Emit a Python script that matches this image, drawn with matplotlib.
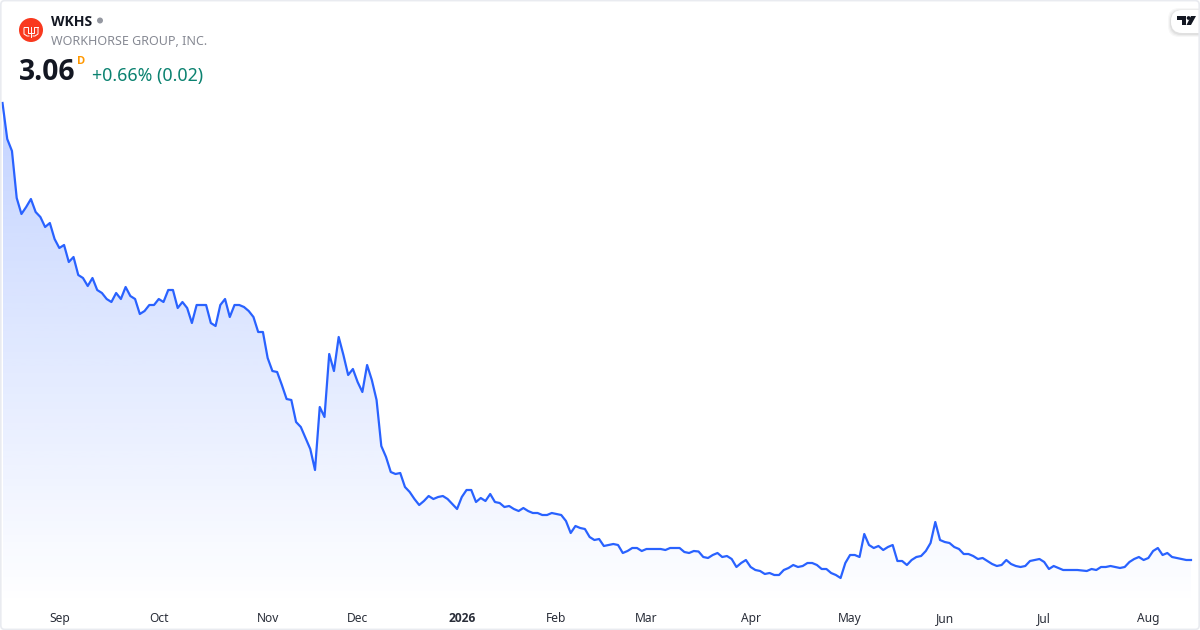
import numpy as np
import matplotlib
matplotlib.use("Agg")
import matplotlib.pyplot as plt
from matplotlib.patches import Circle, FancyBboxPatch, Polygon

plt.rcParams['font.family'] = ['Noto Sans', 'DejaVu Sans']
BOLD_FONT = ['Open Sans', 'Noto Sans', 'DejaVu Sans']

# --- data ---
ticker = "WKHS"
company = "WORKHORSE GROUP, INC."
last_price = "3.06"
change_text = "+0.66% (0.02)"
prices = [
 12.20,11.48,11.24,10.30,9.98,10.12,10.28,10.02,9.92,9.72,
 9.80,9.48,9.30,9.36,9.02,9.12,8.76,8.70,8.54,8.70,
 8.46,8.40,8.28,8.22,8.40,8.28,8.52,8.34,8.28,7.98,
 8.04,8.16,8.16,8.28,8.22,8.46,8.46,8.10,8.22,8.10,
 7.80,8.16,8.16,8.16,7.80,7.74,8.16,8.28,7.92,8.16,
 8.16,8.12,8.04,7.92,7.62,7.62,7.10,6.84,6.82,6.56,
 6.28,6.26,5.82,5.72,5.50,5.28,4.86,6.12,5.92,7.18,
 6.84,7.52,7.16,6.76,6.88,6.62,6.42,6.96,6.66,6.26,
 5.34,5.12,4.82,4.78,4.80,4.52,4.42,4.28,4.16,4.24,
 4.34,4.28,4.32,4.34,4.28,4.18,4.08,4.32,4.46,4.46,
 4.22,4.30,4.24,4.38,4.22,4.20,4.12,4.14,4.08,4.04,
 4.10,4.04,4.00,4.00,3.96,3.96,4.00,3.98,3.96,3.84,
 3.60,3.74,3.70,3.68,3.52,3.46,3.48,3.34,3.36,3.38,
 3.36,3.20,3.24,3.30,3.30,3.24,3.28,3.28,3.28,3.28,
 3.26,3.30,3.30,3.30,3.22,3.20,3.24,3.23,3.12,3.10,
 3.16,3.20,3.12,3.14,3.08,2.92,3.00,3.06,2.92,2.86,
 2.84,2.78,2.80,2.76,2.76,2.86,2.90,2.96,2.92,2.94,
 3.00,3.00,2.96,2.88,2.88,2.80,2.76,2.70,3.00,3.16,
 3.16,3.12,3.58,3.36,3.30,3.34,3.26,3.32,3.36,3.04,
 3.04,2.96,3.06,3.12,3.14,3.24,3.40,3.82,3.46,3.42,
 3.40,3.32,3.28,3.18,3.18,3.14,3.08,3.10,3.04,2.98,
 2.94,2.96,3.06,2.98,2.94,2.92,2.94,3.04,3.06,3.08,
 3.02,2.88,2.94,2.90,2.86,2.86,2.86,2.86,2.85,2.84,
 2.88,2.86,2.92,2.92,2.94,2.92,2.90,2.92,3.02,3.08,
 3.12,3.06,3.10,3.24,3.30,3.16,3.20,3.12,3.10,3.08,
 3.06,3.06,
]
month_labels = ["Sep","Oct","Nov","Dec","2026","Feb","Mar","Apr","May","Jun","Jul","Aug"]
month_bars = [12,33,56,75,97,117,136,158,179,199,220,242]

# --- figure ---
W, H = 1200, 630
fig = plt.figure(figsize=(W/100, H/100), dpi=100, facecolor="white")
bottom_px = 606
ax = fig.add_axes([0, 1-bottom_px/H, 1, bottom_px/H])
x = np.arange(len(prices))
y = np.array(prices)
BLUE = "#2962FF"

step = 4.735
x0 = 2.5
ax.set_xlim(-x0/step, (W-x0)/step)
ax.set_ylim(2.14, 14.26)

# gradient fill under the line
poly = ax.fill_between(x, y, 2.14, color="none", linewidth=0)
alpha = np.linspace(0.28, 0.0, 256).reshape(-1, 1)
rgba = np.zeros((256, 1, 4))
rgba[..., 0] = 41/255; rgba[..., 1] = 98/255; rgba[..., 2] = 1.0
rgba[..., 3] = alpha
im = ax.imshow(rgba, extent=(x[0], x[-1], 2.14, y.max()), origin="upper",
               aspect="auto", zorder=1, interpolation="bilinear")
im.set_clip_path(poly.get_paths()[0], transform=ax.transData)
ax.set_xlim(-x0/step, (W-x0)/step)
ax.set_ylim(2.14, 14.26)

ax.plot(x, y, color=BLUE, lw=1.6, solid_joinstyle="round", zorder=3)

for s in ax.spines.values():
    s.set_visible(False)
ax.set_yticks([])
ax.set_xticks(month_bars)
ax.set_xticklabels(month_labels, fontsize=8.65, color="#2a2e39")
ax.tick_params(axis="x", length=0, pad=4.0)
for t in ax.get_xticklabels():
    if t.get_text() == "2026":
        t.set_fontweight("bold")
        t.set_family(BOLD_FONT)

# --- overlay in pixel coordinates ---
ov = fig.add_axes([0, 0, 1, 1], facecolor="none")
ov.set_xlim(0, W); ov.set_ylim(H, 0); ov.axis("off")

ov.add_patch(FancyBboxPatch((0.8, 0.6), 1198.4, 628.8, boxstyle="round,pad=0,rounding_size=4",
                            fc="none", ec="#e9ebf0", lw=1.2, zorder=10))

# header logo
ov.add_patch(Circle((31, 30), 12, fc="#F9391F", ec="none", zorder=5))
for seg in [[(24,28),(24,34),(27,36),(29,36)],
            [(33,36),(35,36),(38,34),(38,28)],
            [(24,27),(28,27),(28,33),(34,33),(34,27),(38,27)],
            [(31,27),(31,37)]]:
    ov.plot(*zip(*seg), color="white", lw=0.7, zorder=6)

ov.text(51, 22, ticker, fontsize=10.1, fontweight="bold", family=BOLD_FONT, color="#131722", va="center", ha="left")
ov.add_patch(Circle((100, 20.5), 3, fc="#9598a1", ec="none"))
ov.text(51, 41.5, company, fontsize=9.0, color="#868993", va="center", ha="left")
ov.text(19, 72.5, last_price, fontsize=20.3, fontweight="bold", family=BOLD_FONT, color="#131722", va="center", ha="left")
ov.text(77, 62, "D", fontsize=8, fontweight="bold", family=BOLD_FONT, color="#FF9800", va="center", ha="left")
ov.text(92, 76, change_text, fontsize=12.8, color="#0B8270", va="center", ha="left")

# TradingView badge
for off, a in [(3, 0.03), (2, 0.04), (1, 0.05)]:
    ov.add_patch(FancyBboxPatch((1171-off, 10-off+1), 40+2*off, 23+2*off,
                 boxstyle="round,pad=0,rounding_size=11", fc="black", ec="none",
                 alpha=a, zorder=7, clip_on=True))
ov.add_patch(FancyBboxPatch((1171, 10), 40, 23, boxstyle="round,pad=0,rounding_size=11",
                            fc="white", ec="none", zorder=8))
ov.add_patch(Polygon([(1177,16),(1186,16),(1186,25),(1182,25),(1182,20),(1177,20)], fc="#131722", zorder=9))
ov.add_patch(Circle((1188.6, 18), 1.9, fc="#131722", zorder=9))
ov.add_patch(Polygon([(1191,16),(1196,16),(1191,25),(1186.5,25)], fc="#131722", zorder=9))

fig.savefig("out.png", dpi=100)
